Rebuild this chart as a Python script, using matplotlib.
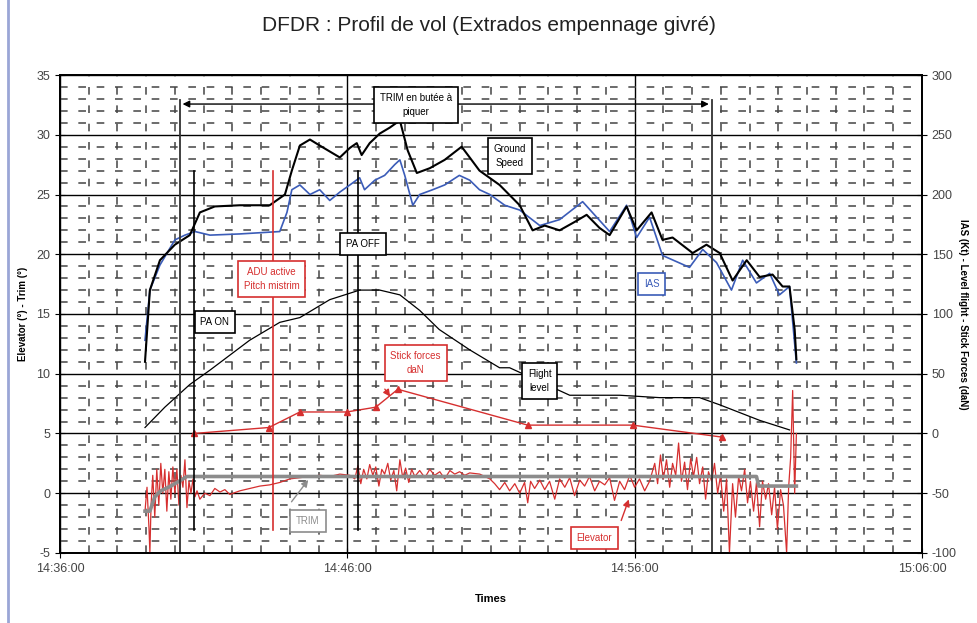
import numpy as np
import matplotlib
matplotlib.use('Agg')
import matplotlib.pyplot as plt
from matplotlib.lines import Line2D

plt.rcParams['font.family'] = ['Liberation Sans', 'DejaVu Sans']
plt.rcParams['axes.unicode_minus'] = False

# temps en minutes depuis 14:36:00
tick_pos = [0, 10, 20, 30]
tick_lab = ['14:36:00', '14:46:00', '14:56:00', '15:06:00']

# Ground speed (kt, axe droit)
gs_t = [2.96, 3.13, 3.48, 4.0, 4.52, 4.87, 5.39, 6.26, 7.30, 7.83, 8.07, 8.35, 8.70, 9.04, 9.39,
        9.74, 10.09, 10.33, 10.5, 10.78, 11.13, 11.48, 11.83, 12.1, 12.42, 12.87, 13.39, 13.98,
        14.26, 14.6, 15.3, 16.0, 16.45, 16.87, 17.39, 17.91, 18.33, 18.78, 19.13, 19.72, 20.07,
        20.59, 20.97, 21.32, 22.02, 22.5, 22.96, 23.41, 23.9, 24.35, 24.8, 25.15, 25.39, 25.57, 25.63]
gs_v = [60, 120, 145, 158, 166, 185, 190, 191, 191, 200, 220, 241, 246, 241, 236,
        231, 239, 243, 233, 243, 251, 256, 262, 237, 218, 222, 229, 240,
        231, 220, 208, 191, 170, 174, 170, 177, 183, 172, 166, 190, 170,
        185, 162, 164, 151, 158, 151, 128, 145, 131, 133, 123, 123, 87, 62]

# IAS (kt, axe droit)
ias_t = [2.96, 3.13, 3.48, 4.0, 4.35, 4.7, 5.22, 6.26, 7.65, 7.9, 8.07, 8.35, 8.7, 9.04, 9.39,
         9.74, 10.09, 10.43, 10.6, 10.96, 11.3, 11.65, 11.83, 12.0, 12.28, 12.52, 12.97, 13.39,
         13.9, 14.26, 14.6, 14.96, 15.48, 16.0, 16.7, 17.39, 18.19, 19.13, 19.72, 20.07, 20.52,
         20.97, 21.91, 22.37, 22.85, 23.37, 23.76, 24.24, 24.7, 25.04, 25.39, 25.63]
ias_v = [78, 120, 141, 162, 166, 169, 166, 167, 169, 185, 204, 208, 200, 204, 195,
         202, 208, 214, 204, 212, 216, 225, 229, 216, 191, 200, 204, 208,
         216, 212, 204, 200, 191, 187, 174, 179, 194, 169, 191, 164, 181,
         149, 139, 154, 143, 120, 145, 126, 134, 116, 123, 59]

# Flight level (axe droit)
fl_t = [2.96, 3.65, 4.52, 5.22, 6.6, 7.65, 8.35, 9.39, 10.43, 11.13, 11.83, 12.52, 13.2,
        14.26, 15.3, 15.65, 17.74, 19.48, 20.87, 22.26, 22.96, 24.35, 25.39]
fl_v = [5, 22, 41, 53, 78, 93, 97, 112, 120, 120, 116, 103, 87,
        70, 55, 55, 32, 32, 30, 30, 24, 11, 3]

# Stick forces (daN, axe droit)
sf_t = [4.66, 7.27, 8.35, 9.98, 10.99, 11.76, 16.28, 19.93, 23.03]
sf_v = [0, 5, 18, 18, 22, 37, 7, 7, -3]

# Trim (deg, axe gauche)
trim_t = [2.96, 3.13, 3.30, 3.51, 3.86, 4.14, 4.42, 24.24, 24.32, 25.63]
trim_v = [-1.5, -1.5, -0.3, 0.2, 0.6, 1.0, 1.4, 1.4, 0.6, 0.6]

# Elevator (deg, axe gauche)
elev_t = [2.96, 3.03, 3.10, 3.13, 3.17, 3.23, 3.30, 3.37, 3.44, 3.51, 3.58, 3.65, 3.72, 3.79,
          3.86, 3.93, 4.00, 4.07, 4.14, 4.21, 4.28, 4.35, 4.42, 4.49, 4.56, 4.63, 4.70, 4.77,
          4.87, 5.04, 5.22, 5.39, 5.57, 5.74, 5.91, 6.26, 6.61, 6.96, 7.30, 7.65, 8.0, 8.35,
          8.70, 9.04, 9.39, 9.74, 10.09, 10.26, 10.37, 10.47, 10.57, 10.68, 10.78, 10.89, 10.99,
          11.10, 11.20, 11.30, 11.41, 11.51, 11.62, 11.72, 11.83, 11.93, 12.03, 12.14, 12.24,
          12.35, 12.52, 12.70, 12.87, 13.04, 13.22, 13.39, 13.57, 13.74, 13.91, 14.09, 14.26,
          14.61, 14.96, 15.13, 15.30, 15.48, 15.65, 15.83, 16.0, 16.17, 16.28, 16.38, 16.52,
          16.70, 16.87, 17.04, 17.22, 17.39, 17.57, 17.74, 17.91, 18.09, 18.26, 18.43, 18.61,
          18.78, 18.96, 19.13, 19.30, 19.48, 19.65, 19.83, 20.0, 20.17, 20.35, 20.52, 20.70,
          20.80, 20.90, 21.00, 21.11, 21.22, 21.32, 21.43, 21.53, 21.63, 21.74, 21.84, 21.95,
          22.05, 22.16, 22.26, 22.37, 22.47, 22.57, 22.68, 22.78, 22.89, 22.99, 23.10, 23.20,
          23.30, 23.41, 23.51, 23.62, 23.72, 23.83, 23.93, 24.03, 24.14, 24.24, 24.35, 24.45,
          24.56, 24.66, 24.77, 24.87, 24.97, 25.08, 25.18, 25.29, 25.36, 25.43, 25.50, 25.57, 25.63]
elev_v = [-1.5, 0.5, -3, -5, -1, 1.5, -2, 2, -1, 2.5, 0, 2, -1.5, 1.8,
          -0.5, 2.2, 0, 2, -1, 1.5, 0.5, 2.8, -1.2, 1, 0, 1.2, -0.3, 0.2,
          -0.5, 0, -0.2, 0.4, 0.1, 0.3, -0.1, 0.2, 0.4, 0.6, 0.7, 0.9, 1.2, 1.3,
          1.4, 1.5, 1.4, 1.6, 1.5, 1.2, 2.3, 0.8, 2.0, 1.2, 2.4, 1.5, 2.2,
          0.6, 2.0, 1.6, 2.5, 1.1, 1.9, 0.2, 2.8, 1.3, 2.1, 0.9, 2.0,
          1.4, 1.9, 1.3, 2.0, 1.5, 1.8, 1.2, 1.9, 1.6, 1.8, 1.5, 1.7,
          1.6, 1.2, 0.8, 0.3, 0.9, 0.2, 0.8, 0.0, 0.9, -0.8, 1.0, 0.4,
          1.1, 0.3, 1.0, -0.5, 1.2, 0.5, 1.3, -0.2, 1.1, 0.6, 1.4, 0.2,
          1.0, 0.7, 1.3, -0.6, 1.0, 0.3, 1.5, 0.5, 1.2, 0.2, 1.0, 2.5,
          0.8, 3.2, 1.2, 2.8, 0.5, 2.5, 1.5, 4.2, 1.0, 2.6, 0.3, 2.9,
          1.4, 3.0, 0.8, 2.2, -0.5, 1.8, 1.0, 2.5, 0.0, 1.5, -1.5, 1.2,
          -5.0, 0.8, -2.0, 1.4, 0.2, 2.0, -0.8, 1.0, -1.5, 0.9, -2.8, 1.0,
          -0.5, 0.8, -1.8, 0.5, -3.0, 0.3, -1.0, -5.0, 0.5, 3.0, 8.6, 0.0, 5.0]

red = '#d62f2f'
blue = '#3b5cb8'
gray = '#8c8c8c'

fig = plt.figure(figsize=(9.78, 6.23), dpi=100)
ax = fig.add_axes([0.0613, 0.1124, 0.8814, 0.7672])
ax2 = ax.twinx()

ax.set_xlim(0, 30)
ax.set_ylim(-5, 35)
ax2.set_ylim(-100, 300)

# grille (mineure en tirets, majeure en trait plein)
ax.set_xticks(tick_pos)
ax.set_xticklabels(tick_lab)
ax.set_xticks(np.arange(0, 31, 1), minor=True)
ax.set_yticks(np.arange(-5, 36, 5))
ax.set_yticks(np.arange(-5, 36, 1), minor=True)
ax.grid(which='minor', color='#444444', lw=1.1, linestyle=(0, (5, 7)))
ax.grid(which='major', color='black', lw=1.0)
ax.set_axisbelow(True)
ax.tick_params(which='minor', length=0)
ax.tick_params(which='major', direction='inout', length=7, labelsize=9, labelcolor='#444444')
ax2.set_yticks(np.arange(-100, 301, 50))
ax2.tick_params(direction='inout', length=7, labelsize=9, labelcolor='#444444')
for a in (ax, ax2):
    for s in a.spines.values():
        s.set_linewidth(1.3)

# courbes axe gauche
ax.plot(elev_t, elev_v, color=red, lw=0.9, zorder=3)
ax.plot(trim_t, trim_v, color=gray, lw=2.6, zorder=4)

# courbes axe droit
ax2.plot(fl_t, fl_v, color='black', lw=0.9)
ax2.plot(ias_t, ias_v, color=blue, lw=1.2)
ax2.plot(gs_t, gs_v, color='black', lw=1.5)
ax2.plot(sf_t, sf_v, color=red, lw=1.0, marker='^', ms=5)

# lignes verticales d'evenements
T = ax.transData
ax2.plot([4.17, 4.17], [32.9, -5], color='#333333', lw=1.3, transform=T)
ax2.plot([22.68, 22.68], [32.9, -5], color='#333333', lw=1.3, transform=T)
ax2.plot([4.66, 4.66], [27.0, -3.1], color='black', lw=1.2, transform=T)
ax2.plot([10.37, 10.37], [27.0, -3.1], color='black', lw=1.2, transform=T)
ax2.plot([7.41, 7.41], [27.0, -3.1], color=red, lw=1.2, transform=T)

ax2.annotate('', xy=(4.17, 32.57), xytext=(22.68, 32.57), xycoords=T, textcoords=T,
             arrowprops=dict(arrowstyle='<|-|>', color='black', lw=1.0))


def boite(txt, x, y, c='black', tc='black'):
    ax2.text(x, y, txt, transform=T, ha='center', va='center', fontsize=7, color=tc,
             linespacing=1.6, zorder=10,
             bbox=dict(boxstyle='square,pad=0.6', fc='white', ec=c, lw=1.2))


boite('TRIM en butée à\npiquer', 12.38, 32.49)
boite('Ground\nSpeed', 15.65, 28.22)
boite('PA OFF', 10.54, 20.86)
boite('PA ON', 5.39, 14.33)
boite('ADU active\nPitch mistrim', 7.37, 17.93, c=red, tc=red)
boite('IAS', 20.59, 17.51, c=blue, tc=blue)
boite('Stick forces\ndaN', 12.38, 10.9, c=red, tc=red)
boite('Flight\nlevel', 16.7, 9.4)
boite('TRIM', 8.63, -2.32, c=gray, tc=gray)
boite('Elevator', 18.6, -3.74, c=red, tc=red)

ax2.annotate('', xy=(11.55, 7.9), xytext=(11.25, 8.9), xycoords=T, textcoords=T,
             arrowprops=dict(arrowstyle='-|>', color=red, lw=1.0))
ax2.annotate('', xy=(8.7, 1.3), xytext=(8.0, -0.9), xycoords=T, textcoords=T,
             arrowprops=dict(arrowstyle='-|>', color=gray, lw=1.0))
ax2.annotate('', xy=(19.83, -0.3), xytext=(19.5, -2.5), xycoords=T, textcoords=T,
             arrowprops=dict(arrowstyle='-|>', color=red, lw=1.0))

ax.set_xlabel('Times', fontsize=8, fontweight='bold', labelpad=14)
ax.set_ylabel('Elevator (°) - Trim (°)', fontsize=7, fontweight='bold', labelpad=6)
ax2.set_ylabel('IAS (Kt) - Level flight - Stick Forces (daN)', fontsize=7,
               fontweight='bold', rotation=270, labelpad=8)
fig.suptitle('DFDR : Profil de vol (Extrados empennage givré)', fontsize=15,
             y=0.975, color='#222222')

fig.add_artist(Line2D([0.008, 0.008], [0.0, 1.0], color='#9aa6d6', lw=2))

fig.savefig('out.png', dpi=100)
